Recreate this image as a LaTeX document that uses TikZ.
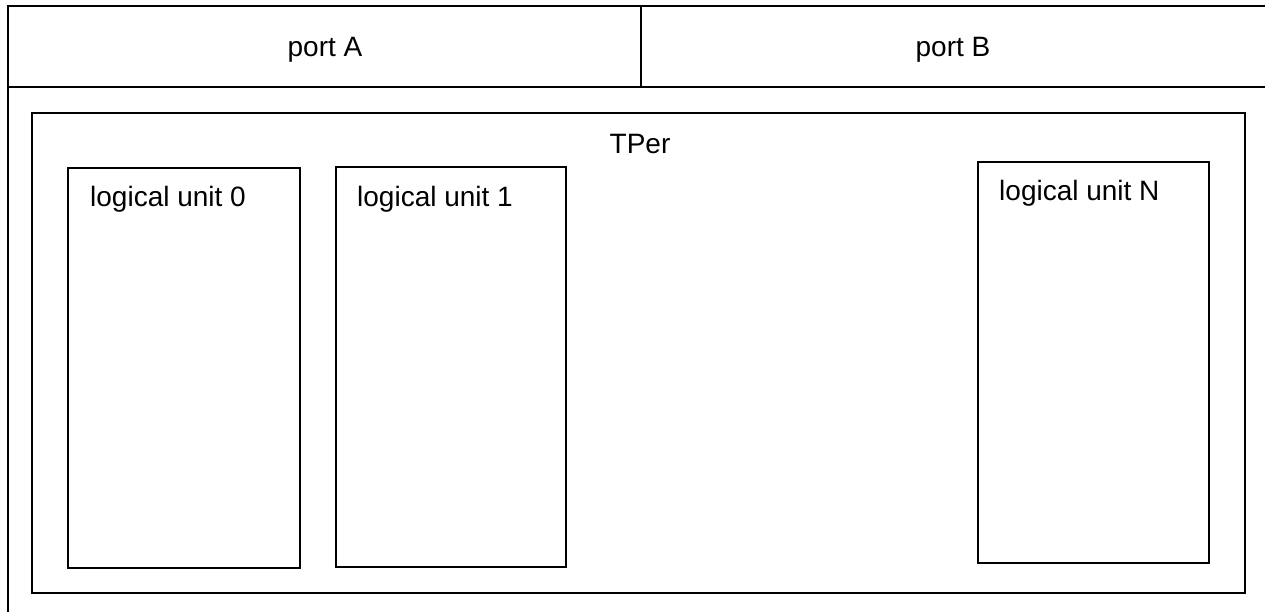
\documentclass[tikz,border=0pt]{standalone}
\usepackage{fontspec}
\setmainfont{Liberation Sans}
\begin{document}
\begin{tikzpicture}[x=1pt,y=-1pt,
  box/.style={draw,line width=2pt,inner sep=0pt,outer sep=0pt,rectangle},
  lbl/.style={font=\fontsize{28}{33}\selectfont,inner sep=0pt}]
\useasboundingbox (0,0) rectangle (1265,611);
\clip (0,0) rectangle (1265,611);
% outer frame (extends past right and bottom)
\node[box,anchor=north west,minimum width=1300pt,minimum height=650pt] (frame) at (8,6) {};
\node[box,anchor=north west,minimum width=633pt,minimum height=81pt] (portA) at (8,6) {};
\node[box,anchor=north west,minimum width=660pt,minimum height=81pt] (portB) at (641,6) {};
\node[lbl] (tA) at (325,50) {port A};
\node[lbl] (tB) at (953,50) {port B};
% TPer
\node[box,anchor=north west,minimum width=1213pt,minimum height=480pt] (tper) at (32,113) {};
\node[lbl] (tT) at (640,144) {TPer};
% logical units
\node[box,anchor=north west,minimum width=232pt,minimum height=400pt] (lu0) at (68,168) {};
\node[box,anchor=north west,minimum width=230pt,minimum height=400pt] (lu1) at (336,167) {};
\node[box,anchor=north west,minimum width=231pt,minimum height=401pt] (luN) at (978,162) {};
\node[lbl,anchor=west] (t0) at (90,199) {logical unit 0};
\node[lbl,anchor=west] (t1) at (357,199) {logical unit 1};
\node[lbl,anchor=west] (tN) at (999,193) {logical unit N};
\end{tikzpicture}
\end{document}
